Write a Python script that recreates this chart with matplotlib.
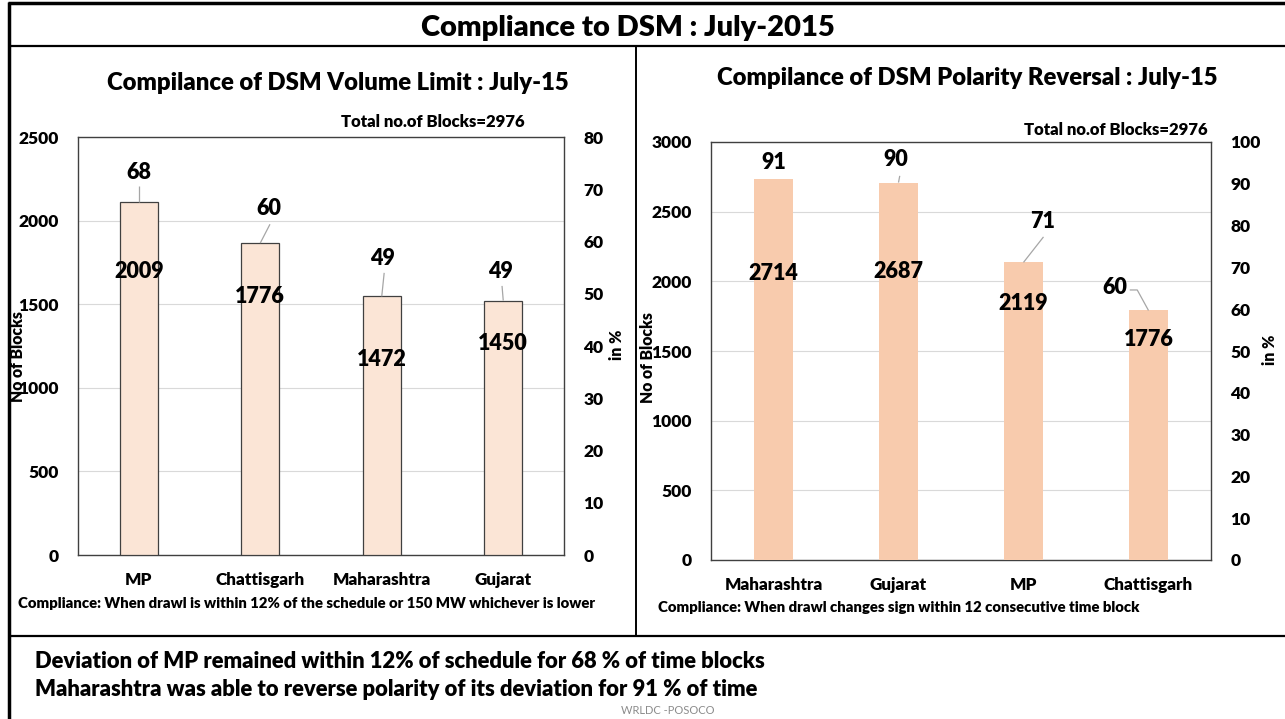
import matplotlib
matplotlib.use("Agg")
import matplotlib.pyplot as plt
from matplotlib.lines import Line2D

plt.rcParams['font.family'] = ['Lato', 'DejaVu Sans']
BW = 'heavy'
plt.rcParams['font.weight'] = BW

W, H = 1285, 719

# ---------------- data ----------------
main_title = "Compliance to DSM : July-2015"
total_text = "Total no.of Blocks=2976"

vol_states = ["MP", "Chattisgarh", "Maharashtra", "Gujarat"]
vol_blocks = [2009, 1776, 1472, 1450]
vol_pct = [67.5, 59.7, 49.5, 48.7]
vol_pct_labels = ["68", "60", "49", "49"]

pol_states = ["Maharashtra", "Gujarat", "MP", "Chattisgarh"]
pol_blocks = [2714, 2687, 2119, 1776]
pol_pct = [91.2, 90.3, 71.2, 59.7]
pol_pct_labels = ["91", "90", "71", "60"]

vol_ticks_left = [0, 500, 1000, 1500, 2000, 2500]
vol_ticks_right = [0, 10, 20, 30, 40, 50, 60, 70, 80]
pol_ticks_left = [0, 500, 1000, 1500, 2000, 2500, 3000]
pol_ticks_right = [0, 10, 20, 30, 40, 50, 60, 70, 80, 90, 100]

# label placement (layout only)
vol_cnt_label_y = [1693, 1549, 1172, 1262]
vol_pct_label_pos = [(0.0, 73.3), (0.07, 66.4), (0.01, 56.8), (-0.02, 54.2)]
vol_leaders = [[(0.0, 70.6)], [(0.08, 63.3)], [(0.02, 54.0)], [(-0.01, 51.5)]]
pol_cnt_label_y = [2053, 2074, 1844, 1579]
pol_pct_label_pos = [(0.0, 95.0), (-0.02, 95.7), (0.15, 80.9), (-0.27, 65.1)]
pol_leaders = [[], [(0.01, 91.9)], [(0.16, 77.3)], [(-0.09, 64.6), (-0.15, 64.6)]]

fig = plt.figure(figsize=(W / 100, H / 100), dpi=100)
fig.patch.set_facecolor('white')


def fx(x):
    return x / W


def fy(y):
    return 1 - y / H


def ftext(x, y, s, **kw):
    fig.text(fx(x), fy(y), s, **kw)


def fline(x0, y0, x1, y1, lw=2.0, color='black'):
    fig.add_artist(Line2D([fx(x0), fx(x1)], [fy(y0), fy(y1)], color=color,
                          lw=lw, transform=fig.transFigure, solid_capstyle='butt'))


# frame lines
fline(8, 3, W, 3, lw=2.5)
fline(9, 2, 9, H, lw=2.5)
fline(8, 46, W, 46, lw=1.6)
fline(636, 46, 636, 636, lw=1.4)
fline(8, 636, W, 636, lw=1.6)

ftext(628, 28, main_title, ha='center', va='center', fontsize=21, fontweight=BW)


def make_chart(rect, states, blocks, pct, pct_labels, lticks, rticks, cnt_y, pct_pos, leaders,
               color, edge, title, title_xy, total_xy, ylab_x, ylab_y, rlab_x, rlab_y, cap, cap_xy):
    l, t, r, b = rect
    ax = fig.add_axes([fx(l), fy(b), fx(r) - fx(l), (b - t) / H])
    ax.set_xlim(-0.5, len(states) - 0.5)
    ax.set_ylim(lticks[0], lticks[-1])
    ax.set_yticks(lticks)
    ax.set_yticklabels([str(v) for v in lticks], fontsize=12.5, fontweight=BW)
    ax.yaxis.grid(True, color='#d9d9d9', lw=0.8)
    ax.set_axisbelow(True)
    ax.tick_params(axis='both', length=0, pad=14)
    ax.set_xticks(range(len(states)))
    ax.set_xticklabels(states, fontsize=12.3, fontweight=BW)
    ax.tick_params(axis='x', pad=12)
    for s in ax.spines.values():
        s.set_color('#404040')
        s.set_linewidth(1.0)
    ax2 = ax.twinx()
    ax2.set_ylim(rticks[0], rticks[-1])
    ax2.set_yticks(rticks)
    ax2.set_yticklabels([str(v) for v in rticks], fontsize=12.5, fontweight=BW)
    ax2.tick_params(axis='y', length=0, pad=14)
    for s in ax2.spines.values():
        s.set_visible(False)
    xs = list(range(len(states)))
    ax2.bar(xs, pct, width=0.31, color=color, edgecolor=edge if edge else color,
            linewidth=0.9 if edge else 0, zorder=2)
    for i in xs:
        dx, ly = pct_pos[i]
        if leaders[i]:
            lx = [i] + [i + p[0] for p in leaders[i]]
            lyy = [pct[i]] + [p[1] for p in leaders[i]]
            ax2.plot(lx, lyy, color='#a6a6a6', lw=0.9, zorder=3, solid_capstyle='butt')
        ax2.text(i + dx, ly, pct_labels[i], ha='center', va='center',
                 fontsize=15.5, fontweight=BW, zorder=4)
        ax2.text(i, cnt_y[i], str(blocks[i]), ha='center', va='center',
                 fontsize=15.5, fontweight=BW, zorder=5, transform=ax.transData)
    ftext(title_xy[0], title_xy[1], title, ha='center', va='center', fontsize=17.2, fontweight=BW)
    ftext(total_xy[0], total_xy[1], total_text, ha='right', va='center', fontsize=12, fontweight=BW)
    ftext(ylab_x, ylab_y, "No of Blocks", ha='center', va='center', rotation=90,
          fontsize=11.3, fontweight=BW)
    ftext(rlab_x, rlab_y, "in %", ha='center', va='center', rotation=90,
          fontsize=11.5, fontweight=BW)
    ftext(cap_xy[0], cap_xy[1], cap, ha='left', va='center', fontsize=10.7, fontweight=BW)
    return ax, ax2


make_chart((78, 137, 564, 555), vol_states, vol_blocks, vol_pct, vol_pct_labels,
           vol_ticks_left, vol_ticks_right, vol_cnt_label_y, vol_pct_label_pos, vol_leaders,
           '#FBE5D6', '#404040', "Compilance of DSM Volume Limit : July-15",
           (338, 83), (525, 122), 18, 357, 617, 345,
           "Compliance: When drawl is within 12% of the schedule or 150 MW whichever is lower",
           (18, 603))

make_chart((711, 142, 1211, 560), pol_states, pol_blocks, pol_pct, pol_pct_labels,
           pol_ticks_left, pol_ticks_right, pol_cnt_label_y, pol_pct_label_pos, pol_leaders,
           '#F8CBAD', None, "Compilance of DSM Polarity Reversal : July-15",
           (967, 78), (1208, 130), 648, 358, 1270, 350,
           "Compliance: When drawl changes sign within 12 consecutive time block",
           (658, 607))

ftext(35, 662, "Deviation of MP remained within 12% of schedule for 68 % of time blocks",
      ha='left', va='center', fontsize=15.8, fontweight=BW)
ftext(35, 690, "Maharashtra was able to reverse polarity of its deviation for 91 % of time",
      ha='left', va='center', fontsize=15.8, fontweight=BW)
ftext(668, 710, "WRLDC -POSOCO", ha='center', va='center', fontsize=8, fontweight='normal',
      color='#8c8c8c')

fig.savefig('out.png', dpi=100)
